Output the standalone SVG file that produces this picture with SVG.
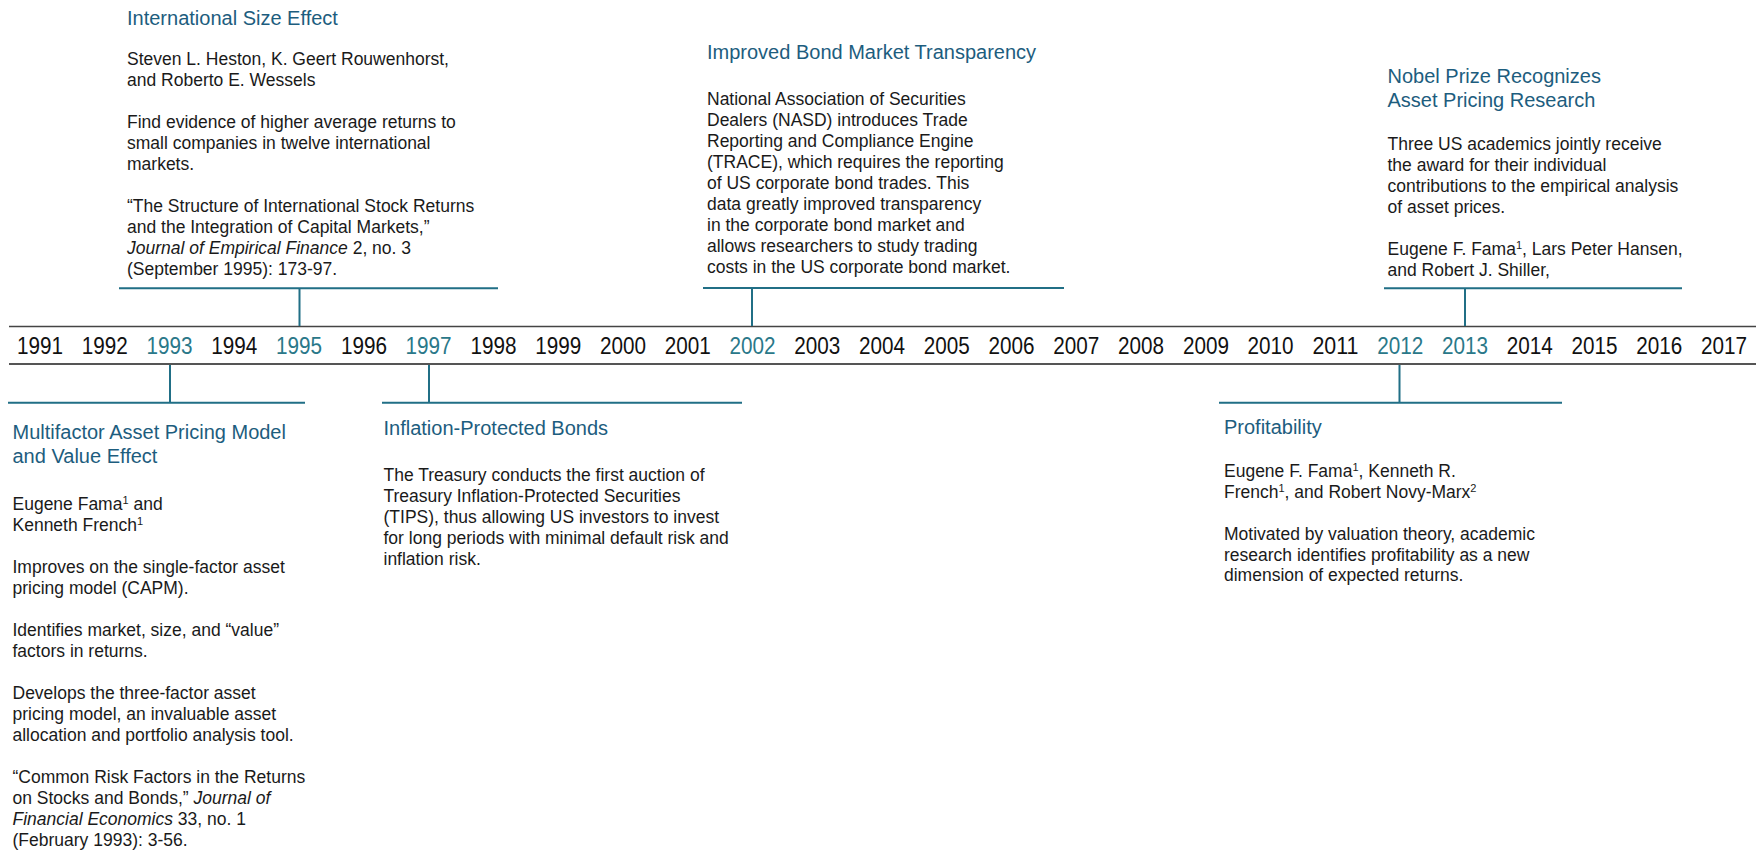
<svg xmlns="http://www.w3.org/2000/svg" width="1758" height="850" viewBox="0 0 1758 850">
<style>
text{font-family:"Liberation Sans",Arial,sans-serif}
.t{font-size:20px;fill:#1d5d7e}
.b{font-size:17.5px;fill:#1a1a1a}
.y{font-size:23px;fill:#111;text-anchor:middle}
.yh{fill:#2a7889}
.br{stroke:#216f86;stroke-width:2;fill:none}
.i{font-style:italic}
.sup{font-size:11px}
</style>
<rect width="1758" height="850" fill="#fff"/>
<g id="timeline">
<line x1="9" y1="326.5" x2="1756" y2="326.5" stroke="#444" stroke-width="1.6"/>
<line x1="9" y1="364" x2="1756" y2="364" stroke="#555" stroke-width="2"/>
<g id="years">
<text class="y" x="40" y="354" textLength="46" lengthAdjust="spacingAndGlyphs">1991</text>
<text class="y" x="104.8" y="354" textLength="46" lengthAdjust="spacingAndGlyphs">1992</text>
<text class="y yh" x="169.5" y="354" textLength="46" lengthAdjust="spacingAndGlyphs">1993</text>
<text class="y" x="234.3" y="354" textLength="46" lengthAdjust="spacingAndGlyphs">1994</text>
<text class="y yh" x="299.1" y="354" textLength="46" lengthAdjust="spacingAndGlyphs">1995</text>
<text class="y" x="363.9" y="354" textLength="46" lengthAdjust="spacingAndGlyphs">1996</text>
<text class="y yh" x="428.6" y="354" textLength="46" lengthAdjust="spacingAndGlyphs">1997</text>
<text class="y" x="493.4" y="354" textLength="46" lengthAdjust="spacingAndGlyphs">1998</text>
<text class="y" x="558.2" y="354" textLength="46" lengthAdjust="spacingAndGlyphs">1999</text>
<text class="y" x="622.9" y="354" textLength="46" lengthAdjust="spacingAndGlyphs">2000</text>
<text class="y" x="687.7" y="354" textLength="46" lengthAdjust="spacingAndGlyphs">2001</text>
<text class="y yh" x="752.5" y="354" textLength="46" lengthAdjust="spacingAndGlyphs">2002</text>
<text class="y" x="817.2" y="354" textLength="46" lengthAdjust="spacingAndGlyphs">2003</text>
<text class="y" x="882" y="354" textLength="46" lengthAdjust="spacingAndGlyphs">2004</text>
<text class="y" x="946.8" y="354" textLength="46" lengthAdjust="spacingAndGlyphs">2005</text>
<text class="y" x="1011.6" y="354" textLength="46" lengthAdjust="spacingAndGlyphs">2006</text>
<text class="y" x="1076.3" y="354" textLength="46" lengthAdjust="spacingAndGlyphs">2007</text>
<text class="y" x="1141.1" y="354" textLength="46" lengthAdjust="spacingAndGlyphs">2008</text>
<text class="y" x="1205.9" y="354" textLength="46" lengthAdjust="spacingAndGlyphs">2009</text>
<text class="y" x="1270.6" y="354" textLength="46" lengthAdjust="spacingAndGlyphs">2010</text>
<text class="y" x="1335.4" y="354" textLength="46" lengthAdjust="spacingAndGlyphs">2011</text>
<text class="y yh" x="1400.2" y="354" textLength="46" lengthAdjust="spacingAndGlyphs">2012</text>
<text class="y yh" x="1465" y="354" textLength="46" lengthAdjust="spacingAndGlyphs">2013</text>
<text class="y" x="1529.7" y="354" textLength="46" lengthAdjust="spacingAndGlyphs">2014</text>
<text class="y" x="1594.5" y="354" textLength="46" lengthAdjust="spacingAndGlyphs">2015</text>
<text class="y" x="1659.3" y="354" textLength="46" lengthAdjust="spacingAndGlyphs">2016</text>
<text class="y" x="1724" y="354" textLength="46" lengthAdjust="spacingAndGlyphs">2017</text>
</g>
</g>
<g id="connectors">
<path class="br" d="M119 288.3H498M299.5 288.3V326"/>
<path class="br" d="M703 288H1064M752 288V326"/>
<path class="br" d="M1384 288.3H1682M1465 288.3V326"/>
<path class="br" d="M8 402.7H305M170 365V402.7"/>
<path class="br" d="M382 402.7H742M429 365V402.7"/>
<path class="br" d="M1219 402.7H1562M1399.5 365V402.7"/>
</g>
<g id="n1995">
<text class="t" x="127" y="25">International Size Effect</text>
<text class="b" x="127" y="65">Steven L. Heston, K. Geert Rouwenhorst,</text>
<text class="b" x="127" y="86">and Roberto E. Wessels</text>
<text class="b" x="127" y="128">Find evidence of higher average returns to</text>
<text class="b" x="127" y="149">small companies in twelve international</text>
<text class="b" x="127" y="170">markets.</text>
<text class="b" x="127" y="212">“The Structure of International Stock Returns</text>
<text class="b" x="127" y="233">and the Integration of Capital Markets,”</text>
<text class="b" x="127" y="254"><tspan class="i">Journal of Empirical Finance</tspan> 2, no. 3</text>
<text class="b" x="127" y="275">(September 1995): 173-97.</text>
</g>
<g id="n2002">
<text class="t" x="707" y="59">Improved Bond Market Transparency</text>
<text class="b" x="707" y="105">National Association of Securities</text>
<text class="b" x="707" y="126">Dealers (NASD) introduces Trade</text>
<text class="b" x="707" y="147">Reporting and Compliance Engine</text>
<text class="b" x="707" y="168">(TRACE), which requires the reporting</text>
<text class="b" x="707" y="189">of US corporate bond trades. This</text>
<text class="b" x="707" y="210">data greatly improved transparency</text>
<text class="b" x="707" y="231">in the corporate bond market and</text>
<text class="b" x="707" y="252">allows researchers to study trading</text>
<text class="b" x="707" y="273">costs in the US corporate bond market.</text>
</g>
<g id="n2013">
<text class="t" x="1387.5" y="83">Nobel Prize Recognizes</text>
<text class="t" x="1387.5" y="107">Asset Pricing Research</text>
<text class="b" x="1387.5" y="150">Three US academics jointly receive</text>
<text class="b" x="1387.5" y="171">the award for their individual</text>
<text class="b" x="1387.5" y="192">contributions to the empirical analysis</text>
<text class="b" x="1387.5" y="213">of asset prices.</text>
<text class="b" x="1387.5" y="255">Eugene F. Fama<tspan class="sup" baseline-shift="super">1</tspan>, Lars Peter Hansen,</text>
<text class="b" x="1387.5" y="276">and Robert J. Shiller,</text>
</g>
<g id="n1993">
<text class="t" x="12.5" y="439">Multifactor Asset Pricing Model</text>
<text class="t" x="12.5" y="463">and Value Effect</text>
<text class="b" x="12.5" y="509.5">Eugene Fama<tspan class="sup" baseline-shift="super">1</tspan> and</text>
<text class="b" x="12.5" y="530.5">Kenneth French<tspan class="sup" baseline-shift="super">1</tspan></text>
<text class="b" x="12.5" y="572.5">Improves on the single-factor asset</text>
<text class="b" x="12.5" y="593.5">pricing model (CAPM).</text>
<text class="b" x="12.5" y="635.5">Identifies market, size, and “value”</text>
<text class="b" x="12.5" y="656.5">factors in returns.</text>
<text class="b" x="12.5" y="698.5">Develops the three-factor asset</text>
<text class="b" x="12.5" y="719.5">pricing model, an invaluable asset</text>
<text class="b" x="12.5" y="740.5">allocation and portfolio analysis tool.</text>
<text class="b" x="12.5" y="782.5">“Common Risk Factors in the Returns</text>
<text class="b" x="12.5" y="803.5">on Stocks and Bonds,” <tspan class="i">Journal of</tspan></text>
<text class="b" x="12.5" y="824.5"><tspan class="i">Financial Economics</tspan> 33, no. 1</text>
<text class="b" x="12.5" y="845.5">(February 1993): 3-56.</text>
</g>
<g id="n1997">
<text class="t" x="383.5" y="435">Inflation-Protected Bonds</text>
<text class="b" x="383.5" y="481">The Treasury conducts the first auction of</text>
<text class="b" x="383.5" y="502">Treasury Inflation-Protected Securities</text>
<text class="b" x="383.5" y="523">(TIPS), thus allowing US investors to invest</text>
<text class="b" x="383.5" y="544">for long periods with minimal default risk and</text>
<text class="b" x="383.5" y="565">inflation risk.</text>
</g>
<g id="n2012">
<text class="t" x="1224" y="434">Profitability</text>
<text class="b" x="1224" y="477">Eugene F. Fama<tspan class="sup" baseline-shift="super">1</tspan>, Kenneth R.</text>
<text class="b" x="1224" y="498">French<tspan class="sup" baseline-shift="super">1</tspan>, and Robert Novy-Marx<tspan class="sup" baseline-shift="super">2</tspan></text>
<text class="b" x="1224" y="539.5">Motivated by valuation theory, academic</text>
<text class="b" x="1224" y="560.5">research identifies profitability as a new</text>
<text class="b" x="1224" y="581">dimension of expected returns.</text>
</g>
</svg>
